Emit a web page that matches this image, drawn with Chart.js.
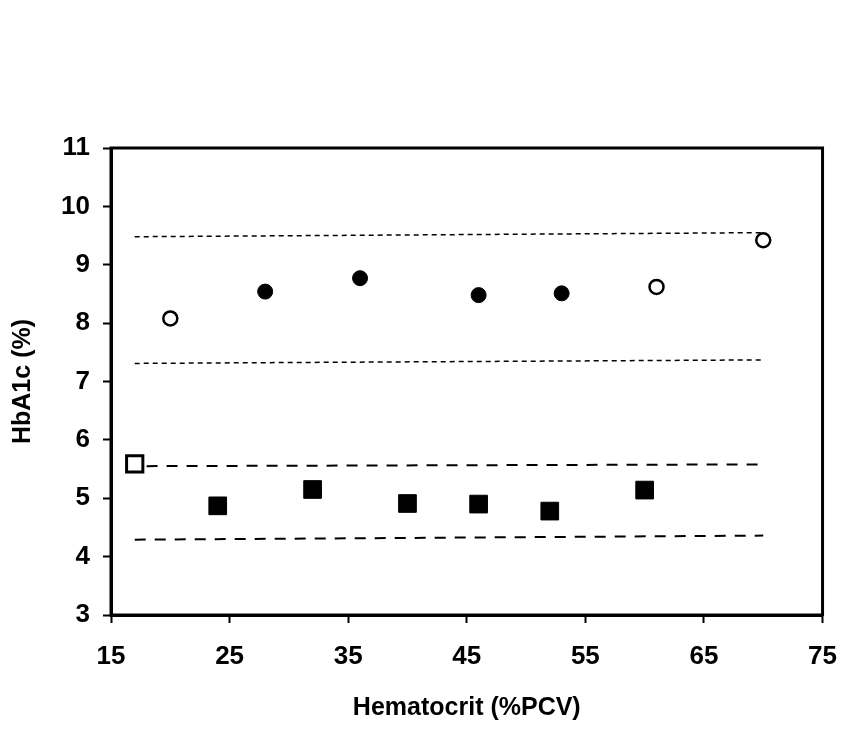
<!DOCTYPE html>
<html>
<head>
<meta charset="utf-8">
<script src="https://cdn.jsdelivr.net/npm/chart.js@4"></script>
<style>
  html, body { margin: 0; padding: 0; background: #fff; }
  #wrap { width: 855px; height: 732px; }
</style>
</head>
<body>
<div id="wrap"><canvas id="myChart" width="855" height="732"></canvas></div>
<script>
// hematocrit (x) and HbA1c (y)
const openCircleX = [20, 61, 70];
const openCircleY = [8.08, 8.62, 9.42];
const filledCircleX = [28, 36, 46, 53];
const filledCircleY = [8.54, 8.77, 8.48, 8.51];
const openSquareX = [17];
const openSquareY = [5.59];
const filledSquareX = [24, 32, 40, 46, 52, 60];
const filledSquareY = [4.87, 5.15, 4.91, 4.9, 4.78, 5.14];

// dashed reference lines, start and end
const lineX = [17, 70];
const upperLongX = [18, 70];
const upperFineY = [9.48, 9.55];
const lowerFineY = [7.31, 7.37];
const upperLongY = [5.55, 5.58];
const lowerLongY = [4.29, 4.36];

const xTicks = [15, 25, 35, 45, 55, 65, 75];
const yTicks = [3, 4, 5, 6, 7, 8, 9, 10, 11];

const pts = (xs, ys) => xs.map((x, i) => ({ x: x, y: ys[i] }));

const ctx = document.querySelector("#myChart").getContext('2d');

const frame = {
  id: 'frame',
  afterDatasetsDraw(chart) {
    const a = chart.chartArea;
    const c = chart.ctx;
    c.save();
    c.strokeStyle = '#000';
    c.lineWidth = 3;
    c.strokeRect(a.left, a.top, a.right - a.left, a.bottom - a.top);
    c.restore();
  }
};

function refLine(xs, ys, dash, width) {
  return {
    data: pts(xs, ys),
    showLine: true,
    borderColor: '#000',
    borderWidth: width,
    borderDash: dash,
    pointRadius: 0,
    fill: false
  };
}

const tickFont = { family: 'Liberation Sans, Arial, sans-serif', size: 26, weight: 'bold' };
const titleFont = { family: 'Liberation Sans, Arial, sans-serif', size: 25, weight: 'bold' };

new Chart(ctx, {
  type: 'scatter',
  data: {
    datasets: [
      refLine(lineX, upperFineY, [5, 4], 1.5),
      refLine(lineX, lowerFineY, [5, 4], 1.5),
      refLine(upperLongX, upperLongY, [11, 9], 2),
      refLine(lineX, lowerLongY, [11, 9], 2),
      {
        data: pts(openCircleX, openCircleY),
        pointStyle: 'circle',
        pointRadius: 7,
        borderWidth: 2.5,
        borderColor: '#000',
        backgroundColor: '#fff'
      },
      {
        data: pts(filledCircleX, filledCircleY),
        pointStyle: 'circle',
        pointRadius: 7.5,
        borderWidth: 1,
        borderColor: '#000',
        backgroundColor: '#000'
      },
      {
        data: pts(openSquareX, openSquareY),
        pointStyle: 'rect',
        pointRadius: 11.5,
        borderWidth: 3,
        borderColor: '#000',
        backgroundColor: '#fff'
      },
      {
        data: pts(filledSquareX, filledSquareY),
        pointStyle: 'rect',
        pointRadius: 12.5,
        borderWidth: 1,
        borderColor: '#000',
        backgroundColor: '#000'
      }
    ]
  },
  options: {
    responsive: false,
    animation: false,
    layout: { autoPadding: false, padding: { top: 148, right: 31, left: 0, bottom: 0 } },
    plugins: {
      legend: { display: false },
      tooltip: { enabled: false },
      title: { display: false }
    },
    scales: {
      x: {
        type: 'linear',
        min: 15,
        max: 75,
        afterFit(scale) { scale.height = 117; },
        afterBuildTicks(scale) { scale.ticks = xTicks.map(v => ({ value: v })); },
        grid: { drawOnChartArea: false, drawTicks: true, tickLength: 8, tickWidth: 2, tickColor: '#000' },
        border: { display: true, color: '#000', width: 3 },
        ticks: { color: '#000', font: tickFont, padding: 18, maxRotation: 0 },
        title: { display: true, text: 'Hematocrit (%PCV)', color: '#000', font: titleFont, padding: { top: 0, bottom: 9 } }
      },
      y: {
        type: 'linear',
        min: 3,
        max: 11,
        afterFit(scale) { scale.width = 111; },
        afterBuildTicks(scale) { scale.ticks = yTicks.map(v => ({ value: v })); },
        grid: { drawOnChartArea: false, drawTicks: true, tickLength: 8, tickWidth: 2, tickColor: '#000' },
        border: { display: true, color: '#000', width: 3 },
        ticks: { color: '#000', font: tickFont, padding: 13 },
        title: { display: true, text: 'HbA1c (%)', color: '#000', font: titleFont, padding: { top: 8, bottom: 0 } }
      }
    }
  },
  plugins: [frame]
});
</script>
</body>
</html>
